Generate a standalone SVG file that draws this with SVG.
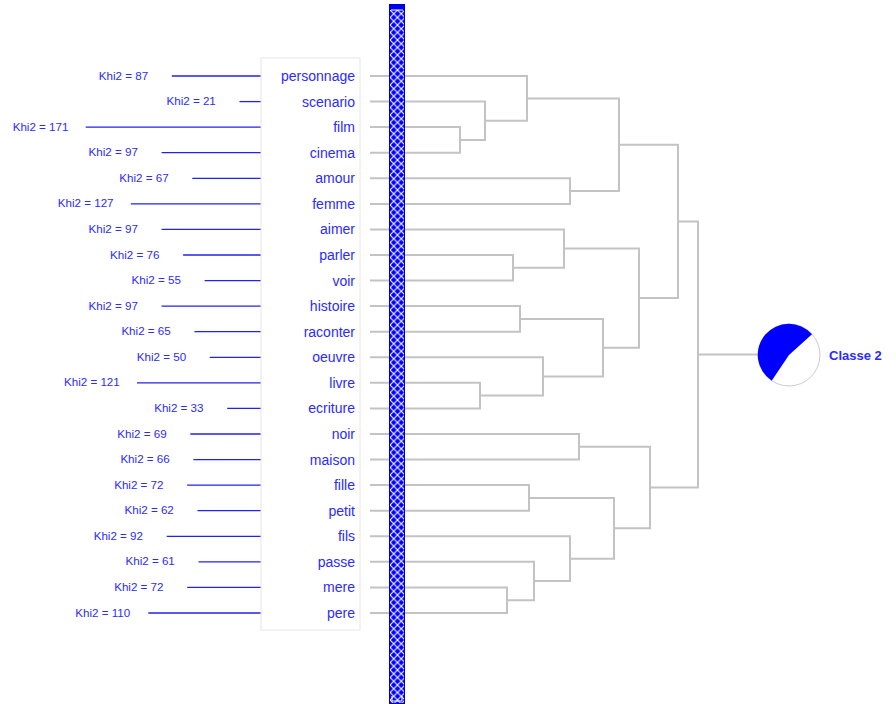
<svg xmlns="http://www.w3.org/2000/svg" width="896" height="704" viewBox="0 0 896 704">
<style>
.kt{font-family:"Liberation Sans",Arial,sans-serif;font-size:11.6px;fill:#2b2bff}
.wt{font-family:"Liberation Sans",Arial,sans-serif;font-size:14px;fill:#2b2bff;text-anchor:end}
.kl{stroke:#2222ee;stroke-width:1.3;fill:none}
.dl{stroke:#c3c3c3;stroke-width:2;fill:none}
.ct{font-family:"Liberation Sans",Arial,sans-serif;font-size:13px;font-weight:bold;fill:#2b2bff}
</style>
<defs>
<pattern id="hatch" x="390" y="10" width="7.5" height="7.5" patternUnits="userSpaceOnUse">
<rect width="7.5" height="7.5" fill="#0000ff"/>
<path d="M0 0 L7.5 7.5 M7.5 0 L0 7.5" stroke="#ffffff" stroke-width="1.1"/>
</pattern>
</defs>
<rect width="896" height="704" fill="#ffffff"/>

<g id="khi2">
<line class="kl" x1="171.8" y1="76" x2="261" y2="76"/><text class="kt" x="98.8" y="79.5">Khi2 = 87</text>
<line class="kl" x1="239.5" y1="101.6" x2="261" y2="101.6"/><text class="kt" x="166.5" y="105.1">Khi2 = 21</text>
<line class="kl" x1="85.7" y1="127.1" x2="261" y2="127.1"/><text class="kt" x="12.7" y="130.6">Khi2 = 171</text>
<line class="kl" x1="161.6" y1="152.7" x2="261" y2="152.7"/><text class="kt" x="88.6" y="156.2">Khi2 = 97</text>
<line class="kl" x1="192.3" y1="178.3" x2="261" y2="178.3"/><text class="kt" x="119.3" y="181.8">Khi2 = 67</text>
<line class="kl" x1="130.8" y1="203.9" x2="261" y2="203.9"/><text class="kt" x="57.8" y="207.4">Khi2 = 127</text>
<line class="kl" x1="161.6" y1="229.4" x2="261" y2="229.4"/><text class="kt" x="88.6" y="232.9">Khi2 = 97</text>
<line class="kl" x1="183.1" y1="255" x2="261" y2="255"/><text class="kt" x="110.1" y="258.5">Khi2 = 76</text>
<line class="kl" x1="204.6" y1="280.6" x2="261" y2="280.6"/><text class="kt" x="131.6" y="284.1">Khi2 = 55</text>
<line class="kl" x1="161.6" y1="306.1" x2="261" y2="306.1"/><text class="kt" x="88.6" y="309.6">Khi2 = 97</text>
<line class="kl" x1="194.4" y1="331.7" x2="261" y2="331.7"/><text class="kt" x="121.4" y="335.2">Khi2 = 65</text>
<line class="kl" x1="209.8" y1="357.3" x2="261" y2="357.3"/><text class="kt" x="136.8" y="360.8">Khi2 = 50</text>
<line class="kl" x1="137" y1="382.8" x2="261" y2="382.8"/><text class="kt" x="64" y="386.3">Khi2 = 121</text>
<line class="kl" x1="227.2" y1="408.4" x2="261" y2="408.4"/><text class="kt" x="154.2" y="411.9">Khi2 = 33</text>
<line class="kl" x1="190.3" y1="434" x2="261" y2="434"/><text class="kt" x="117.3" y="437.5">Khi2 = 69</text>
<line class="kl" x1="193.4" y1="459.6" x2="261" y2="459.6"/><text class="kt" x="120.4" y="463.1">Khi2 = 66</text>
<line class="kl" x1="187.2" y1="485.1" x2="261" y2="485.1"/><text class="kt" x="114.2" y="488.6">Khi2 = 72</text>
<line class="kl" x1="197.5" y1="510.7" x2="261" y2="510.7"/><text class="kt" x="124.5" y="514.2">Khi2 = 62</text>
<line class="kl" x1="166.7" y1="536.3" x2="261" y2="536.3"/><text class="kt" x="93.7" y="539.8">Khi2 = 92</text>
<line class="kl" x1="198.5" y1="561.8" x2="261" y2="561.8"/><text class="kt" x="125.5" y="565.3">Khi2 = 61</text>
<line class="kl" x1="187.2" y1="587.4" x2="261" y2="587.4"/><text class="kt" x="114.2" y="590.9">Khi2 = 72</text>
<line class="kl" x1="148.3" y1="613" x2="261" y2="613"/><text class="kt" x="75.3" y="616.5">Khi2 = 110</text>
</g>

<g id="labels">
<rect x="261" y="58" width="99" height="572" fill="#ffffff" stroke="#e6e6e6" stroke-width="1"/>
<text class="wt" x="355" y="81">personnage</text>
<text class="wt" x="355" y="106.6">scenario</text>
<text class="wt" x="355" y="132.1">film</text>
<text class="wt" x="355" y="157.7">cinema</text>
<text class="wt" x="355" y="183.3">amour</text>
<text class="wt" x="355" y="208.9">femme</text>
<text class="wt" x="355" y="234.4">aimer</text>
<text class="wt" x="355" y="260">parler</text>
<text class="wt" x="355" y="285.6">voir</text>
<text class="wt" x="355" y="311.1">histoire</text>
<text class="wt" x="355" y="336.7">raconter</text>
<text class="wt" x="355" y="362.3">oeuvre</text>
<text class="wt" x="355" y="387.8">livre</text>
<text class="wt" x="355" y="413.4">ecriture</text>
<text class="wt" x="355" y="439">noir</text>
<text class="wt" x="355" y="464.6">maison</text>
<text class="wt" x="355" y="490.1">fille</text>
<text class="wt" x="355" y="515.7">petit</text>
<text class="wt" x="355" y="541.3">fils</text>
<text class="wt" x="355" y="566.8">passe</text>
<text class="wt" x="355" y="592.4">mere</text>
<text class="wt" x="355" y="618">pere</text>
</g>

<g id="connectors">
<path class="dl" d="M370 127.1 H460 V152.7 H370"/>
<path class="dl" d="M370 101.6 H485 V139.9 H460"/>
<path class="dl" d="M370 76 H527 V120.75 H485"/>
<path class="dl" d="M370 178.3 H570 V203.9 H370"/>
<path class="dl" d="M527 98.4 H619 V191.1 H570"/>
<path class="dl" d="M370 255 H513 V280.6 H370"/>
<path class="dl" d="M370 229.4 H564 V267.8 H513"/>
<path class="dl" d="M370 306.1 H520 V331.7 H370"/>
<path class="dl" d="M370 382.8 H480 V408.4 H370"/>
<path class="dl" d="M370 357.3 H543 V395.6 H480"/>
<path class="dl" d="M520 318.9 H603 V376.4 H543"/>
<path class="dl" d="M564 248.6 H639 V347.7 H603"/>
<path class="dl" d="M619 144.7 H678 V298.1 H639"/>
<path class="dl" d="M370 434 H579 V459.6 H370"/>
<path class="dl" d="M370 485.1 H529 V510.7 H370"/>
<path class="dl" d="M370 587.4 H507 V613 H370"/>
<path class="dl" d="M370 561.8 H534 V600.2 H507"/>
<path class="dl" d="M370 536.3 H570 V581 H534"/>
<path class="dl" d="M529 497.9 H614 V558.7 H570"/>
<path class="dl" d="M579 446.8 H650 V528.3 H614"/>
<path class="dl" d="M678 221.4 H698 V487.5 H650"/>
<path class="dl" d="M698 354.5 H758"/>
</g>

<g id="bar">
<rect x="389.5" y="4.5" width="15" height="699" fill="url(#hatch)" stroke="#0000cc" stroke-width="1"/>
<rect x="390" y="5" width="14" height="5" fill="#0000ff"/>
<line x1="391" y1="10" x2="403" y2="10" stroke="#ffffff" stroke-width="1"/>
<path d="M392 696 V701 H402 V696" stroke="#ffffff" stroke-width="1" fill="none"/>
</g>

<g id="classe2">
<circle cx="789" cy="355" r="31" fill="#ffffff" stroke="#cccccc" stroke-width="1"/>
<path d="M789 355 L812 334.3 A31 31 0 1 0 771.7 380.7 Z" fill="#0000ff"/>
<text class="ct" x="829" y="359.5">Classe 2</text>
</g>
</svg>
